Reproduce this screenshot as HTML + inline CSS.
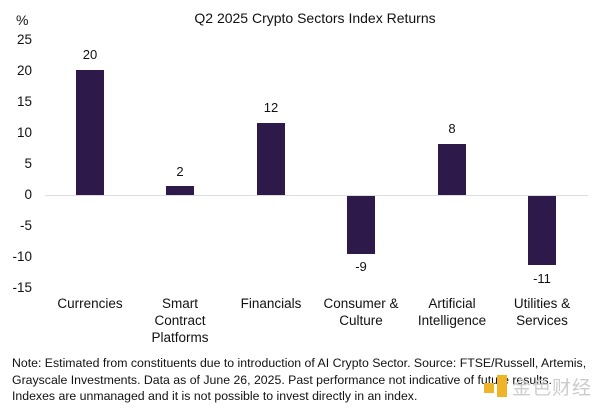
<!DOCTYPE html>
<html><head><style>
body{margin:0;width:600px;height:409px;background:#fff;font-family:"Liberation Sans","Noto Sans CJK SC",sans-serif;color:#111;position:relative;overflow:hidden}
.t{position:absolute;white-space:nowrap}
.y{position:absolute;right:568px;font-size:13.5px;text-align:right}
.bar{position:absolute;width:28px;background:#2d1a4b}
.v{position:absolute;width:60px;text-align:center;font-size:13px}
.c{position:absolute;width:100px;text-align:center;font-size:13.5px;line-height:17px}
.note{position:absolute;left:12px;top:355px;font-size:12.3px;line-height:16.5px;width:595px;white-space:nowrap}
</style></head><body>
<div class="t" style="left:16px;top:12px;font-size:14px">%</div>
<div class="t" style="left:0;width:600px;text-align:center;top:10px;font-size:14px;padding-left:30px;box-sizing:border-box">Q2 2025 Crypto Sectors Index Returns</div>
<div class="y" style="top:32px">25</div>
<div class="y" style="top:63px">20</div>
<div class="y" style="top:94px">15</div>
<div class="y" style="top:125px">10</div>
<div class="y" style="top:156px">5</div>
<div class="y" style="top:187px">0</div>
<div class="y" style="top:218px">-5</div>
<div class="y" style="top:249px">-10</div>
<div class="y" style="top:280px">-15</div>
<div style="position:absolute;left:45px;width:543px;top:195px;height:1px;background:#ddd"></div>
<div class="bar" style="left:76px;top:70px;height:125px"></div>
<div class="bar" style="left:166px;top:186px;height:9px"></div>
<div class="bar" style="left:257px;top:123px;height:72px"></div>
<div class="bar" style="left:347px;top:196px;height:58px"></div>
<div class="bar" style="left:438px;top:144px;height:51px"></div>
<div class="bar" style="left:528px;top:196px;height:69px"></div>
<div class="v" style="left:60px;top:47px">20</div>
<div class="v" style="left:150px;top:164px">2</div>
<div class="v" style="left:241px;top:100px">12</div>
<div class="v" style="left:331px;top:259px">-9</div>
<div class="v" style="left:422px;top:121px">8</div>
<div class="v" style="left:512px;top:271px">-11</div>
<div class="c" style="left:40px;top:295px">Currencies</div>
<div class="c" style="left:130px;top:295px">Smart<br>Contract<br>Platforms</div>
<div class="c" style="left:221px;top:295px">Financials</div>
<div class="c" style="left:311px;top:295px">Consumer &amp;<br>Culture</div>
<div class="c" style="left:402px;top:295px">Artificial<br>Intelligence</div>
<div class="c" style="left:492px;top:295px">Utilities &amp;<br>Services</div>
<div class="note">Note: Estimated from constituents due to introduction of AI Crypto Sector. Source: FTSE/Russell, Artemis,<br>Grayscale Investments. Data as of June 26, 2025. Past performance not indicative of future results.<br>Indexes are unmanaged and it is not possible to invest directly in an index.</div>
<div style="position:absolute;left:484px;top:383px;width:10px;height:10px;background:#f0b429"></div>
<div style="position:absolute;left:497px;top:375px;width:10px;height:22px;background:#f0b429"></div>
<div class="t" style="left:512px;top:373px;font-size:19px;color:#ccc;letter-spacing:1px">金色财经</div>
</body></html>
